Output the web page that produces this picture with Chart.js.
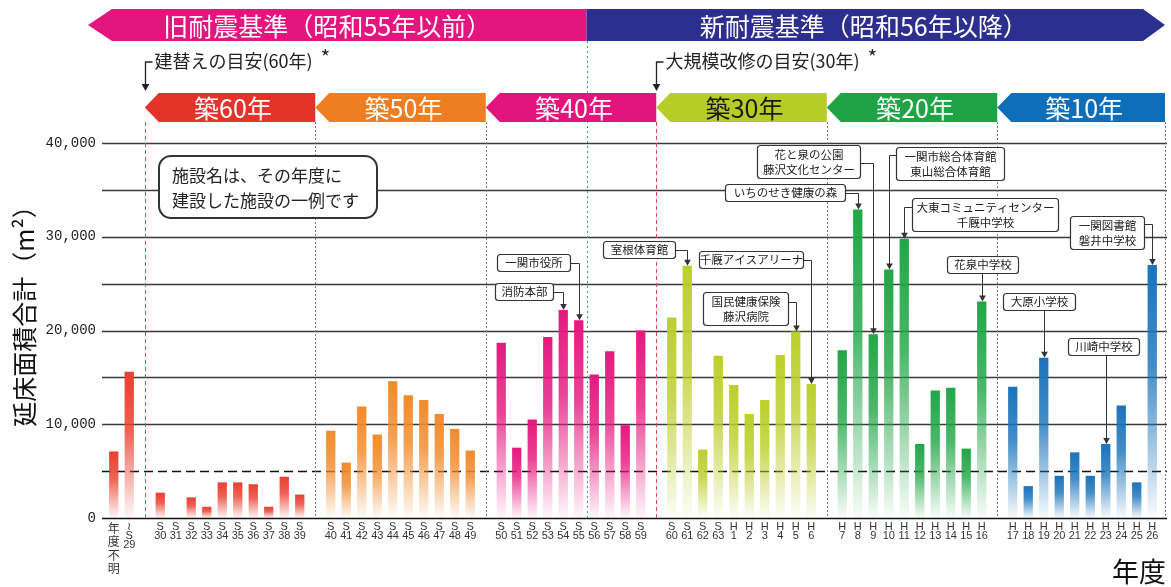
<!DOCTYPE html>
<html><head><meta charset="utf-8">
<script src="https://cdn.jsdelivr.net/npm/chart.js@4.4.1/dist/chart.umd.min.js"></script>
<style>html,body{margin:0;padding:0;background:#fff}#wrap{position:relative;width:1171px;height:587px}</style>
</head><body><div id="wrap"><canvas id="c" width="1171" height="587"></canvas></div>
<script>
// ---- data ----
const preLabels = ['年度不明', '〜S29'];
const preValues = [7100, 15600];
const age60Labels = ['S30','S31','S32','S33','S34','S35','S36','S37','S38','S39'];
const age60Values = [2700, 0, 2200, 1200, 3800, 3800, 3600, 1200, 4400, 2500];
const age50Labels = ['S40','S41','S42','S43','S44','S45','S46','S47','S48','S49'];
const age50Values = [9300, 5900, 11900, 8900, 14600, 13100, 12600, 11100, 9500, 7200];
const age40Labels = ['S50','S51','S52','S53','S54','S55','S56','S57','S58','S59'];
const age40Values = [18700, 7500, 10500, 19300, 22200, 21100, 15300, 17800, 9900, 20000];
const age30Labels = ['S60','S61','S62','S63','H1','H2','H3','H4','H5','H6'];
const age30Values = [21400, 26900, 7300, 17300, 14200, 11100, 12600, 17400, 19900, 14300];
const age20Labels = ['H7','H8','H9','H10','H11','H12','H13','H14','H15','H16'];
const age20Values = [17900, 32900, 19600, 26500, 29800, 7900, 13600, 13900, 7400, 23100];
const age10Labels = ['H17','H18','H19','H20','H21','H22','H23','H24','H25','H26'];
const age10Values = [14000, 3400, 17100, 4500, 7000, 4500, 7900, 12000, 3800, 27000];
const ageBandNames = ['築60年','築50年','築40年','築30年','築20年','築10年'];
const eraTitleOld = '旧耐震基準（昭和55年以前）';
const eraTitleNew = '新耐震基準（昭和56年以降）';
const yAxisTitle = '延床面積合計（m²）';
const xAxisTitle = '年度';

// ---- styles ----
const CJK = '"Noto Sans CJK JP", "Noto Sans CJK SC", sans-serif';
const barColors = ['#e8402f','#f28a2a','#e5197f','#bccf2a','#22a647','#1a73bb'];
const bandColors = ['#e5332a','#ef7d22','#e4147f','#b6cc27','#1ea445','#0e6fb8'];
const bandText = ['#fff','#fff','#fff','#1a1a1a','#fff','#fff'];

// ---- build category table ----
const groups = [
  [age60Labels, age60Values], [age50Labels, age50Values], [age40Labels, age40Values],
  [age30Labels, age30Values], [age20Labels, age20Values], [age10Labels, age10Values]
];
const labels = [...preLabels];
const values = [...preValues];
const eraOf = preLabels.map(() => 0);
const spacerIdx = [];
groups.forEach(([ls, vs], g) => {
  labels.push(''); values.push(null); eraOf.push(-1); spacerIdx.push(labels.length - 1);
  ls.forEach((l, i) => { labels.push(l); values.push(vs[i]); eraOf.push(g); });
});

function hexA(hex, a){
  const n = parseInt(hex.slice(1), 16);
  return `rgba(${(n>>16)&255},${(n>>8)&255},${n&255},${a})`;
}
function barFill(c){
  const col = barColors[Math.max(0, eraOf[c.dataIndex] ?? 0)];
  const chart = c.chart;
  if (!chart.chartArea || c.raw == null) return col;
  const ys = chart.scales.y;
  const top = ys.getPixelForValue(c.raw), bot = ys.getPixelForValue(0);
  if (!(bot > top)) return col;
  const g = chart.ctx.createLinearGradient(0, top, 0, bot);
  g.addColorStop(0, hexA(col, 1));
  g.addColorStop(0.4, hexA(col, 0.82));
  g.addColorStop(1, hexA(col, 0.03));
  return g;
}

function splitLabel(l){
  if (!l) return '';
  if (l === '年度不明') return l.split('');
  if (l.startsWith('〜')) return ['≀', 'S', l.slice(2)];
  return [l[0], l.slice(1)];
}

// callouts: text, target category, box rect, route
const callouts = [
  {t:['一関市役所'], target:'S55', box:[497,254,73,17], route:'right', ly:0.5},
  {t:['消防本部'], target:'S54', box:[495,283,58,17], route:'right', ly:0.5},
  {t:['室根体育館'], target:'S61', box:[603,241,72,17], route:'right', ly:0.5},
  {t:['千厩アイスアリーナ'], target:'H6', box:[699,251,104,17], route:'right', ly:0.5},
  {t:['国民健康保険','藤沢病院'], target:'H5', box:[703,292,85,33], route:'right', ly:0.3},
  {t:['花と泉の公園','藤沢文化センター'], target:'H9', box:[757,145,103,33], route:'right', ly:0.55},
  {t:['いちのせき健康の森'], target:'H8', box:[725,184,120,17], route:'right', ly:0.5},
  {t:['一関市総合体育館','東山総合体育館'], target:'H10', box:[896,147,108,33], route:'left', ly:0.25},
  {t:['大東コミュニティセンター','千厩中学校'], target:'H11', box:[912,198,146,33], route:'left', ly:0.28},
  {t:['花泉中学校'], target:'H16', box:[947,256,71,17], route:'bottom'},
  {t:['大原小学校'], target:'H19', box:[1003,293,72,17], route:'bottom'},
  {t:['一関図書館','磐井中学校'], target:'H26', box:[1070,216,74,33], route:'right', ly:0.25},
  {t:['川崎中学校'], target:'H23', box:[1068,338,71,17], route:'bottom'}
];

function rr(ctx,x,y,w,h,r){ctx.beginPath();ctx.moveTo(x+r,y);ctx.arcTo(x+w,y,x+w,y+h,r);ctx.arcTo(x+w,y+h,x,y+h,r);ctx.arcTo(x,y+h,x,y,r);ctx.arcTo(x,y,x+w,y,r);ctx.closePath();}
function arrowDown(ctx,x,y,s){ctx.beginPath();ctx.moveTo(x,y);ctx.lineTo(x-s*0.55,y-s);ctx.lineTo(x+s*0.55,y-s);ctx.closePath();ctx.fill();}
function leftBand(ctx,x0,x1,y0,y1,d,color){ctx.beginPath();ctx.moveTo(x0,(y0+y1)/2);ctx.lineTo(x0+d,y0);ctx.lineTo(x1,y0);ctx.lineTo(x1,y1);ctx.lineTo(x0+d,y1);ctx.closePath();ctx.fillStyle=color;ctx.fill();}
function rightBand(ctx,x0,x1,y0,y1,d,color){ctx.beginPath();ctx.moveTo(x0,y0);ctx.lineTo(x1-d,y0);ctx.lineTo(x1,(y0+y1)/2);ctx.lineTo(x1-d,y1);ctx.lineTo(x0,y1);ctx.closePath();ctx.fillStyle=color;ctx.fill();}

function boundaries(chart){
  const x = chart.scales.x, a = chart.chartArea;
  const b = spacerIdx.map(i => x.getPixelForValue(i));
  b.push(a.right + 5);
  return b;
}

const deco = {
  id: 'deco',
  beforeDatasetsDraw(chart){
    const {ctx, chartArea:a, scales:{x, y}} = chart;
    ctx.save();
    for (let v = 0; v <= 40000; v += 5000){
      const py = Math.round(y.getPixelForValue(v)) + 0.5;
      ctx.beginPath();
      ctx.moveTo(a.left - 4, py); ctx.lineTo(a.right + 7, py);
      if (v === 5000){ ctx.setLineDash([9,5]); ctx.strokeStyle = '#111'; ctx.lineWidth = 1.4; }
      else if (v === 0){ ctx.setLineDash([]); ctx.strokeStyle = '#111'; ctx.lineWidth = 1.6; }
      else { ctx.setLineDash([]); ctx.strokeStyle = '#3a3a3a'; ctx.lineWidth = 1.4; }
      ctx.stroke();
    }
    ctx.setLineDash([]);
    const b = boundaries(chart);
    b.forEach((bx, k) => {
      ctx.beginPath();
      const px = Math.round(bx) + 0.5;
      ctx.moveTo(px, 122); ctx.lineTo(px, a.bottom);
      if (k === 0 || k === 3){ ctx.strokeStyle = '#e0465a'; ctx.setLineDash([4,3]); }
      else { ctx.strokeStyle = '#777'; ctx.setLineDash([2,2]); }
      ctx.lineWidth = 1; ctx.stroke();
    });
    const i55 = labels.indexOf('S55'), i56 = labels.indexOf('S56');
    const mid = Math.round((x.getPixelForValue(i55) + x.getPixelForValue(i56)) / 2) + 0.5;
    ctx.beginPath(); ctx.moveTo(mid, 41); ctx.lineTo(mid, a.bottom);
    ctx.strokeStyle = '#3c9a74'; ctx.setLineDash([2,3]); ctx.stroke();
    ctx.restore();
  },
  afterDatasetsDraw(chart){
    const {ctx, scales:{x, y}} = chart;
    ctx.save();
    rr(ctx, 159, 156, 218, 62, 12);
    ctx.fillStyle = '#fff'; ctx.fill();
    ctx.lineWidth = 2; ctx.strokeStyle = '#333'; ctx.stroke();
    ctx.fillStyle = '#222'; ctx.font = `17px ${CJK}`; ctx.textBaseline = 'middle'; ctx.textAlign = 'left';
    ctx.fillText('施設名は、その年度に', 172, 176);
    ctx.fillText('建設した施設の一例です', 172, 201);
    callouts.forEach(c => {
      const idx = labels.indexOf(c.target);
      const bx = Math.round(x.getPixelForValue(idx)) + 0.5;
      const by = y.getPixelForValue(values[idx]);
      const [X, Y, W, H] = c.box;
      ctx.strokeStyle = '#333'; ctx.fillStyle = '#333'; ctx.lineWidth = 1; ctx.setLineDash([]);
      ctx.beginPath();
      if (c.route === 'bottom'){
        ctx.moveTo(bx, Y + H); ctx.lineTo(bx, by - 5);
      } else {
        const ly = Math.round(Y + H * c.ly) + 0.5;
        const sx = c.route === 'right' ? X + W : X;
        ctx.moveTo(sx, ly); ctx.lineTo(bx, ly); ctx.lineTo(bx, by - 5);
      }
      ctx.stroke();
      arrowDown(ctx, bx, by, 6);
      rr(ctx, X + 0.5, Y + 0.5, W, H, 3);
      ctx.fillStyle = '#fff'; ctx.fill();
      ctx.strokeStyle = '#333'; ctx.lineWidth = 1.2; ctx.stroke();
      ctx.fillStyle = '#222'; ctx.font = `11.5px ${CJK}`; ctx.textAlign = 'center'; ctx.textBaseline = 'middle';
      const n = c.t.length;
      c.t.forEach((s, i) => ctx.fillText(s, X + W / 2 + 0.5, Y + H / 2 + (i - (n - 1) / 2) * 14.5 + 0.5));
    });
    ctx.restore();
  },
  afterDraw(chart){
    const {ctx, chartArea:a, scales:{x}} = chart;
    ctx.save();
    const b = boundaries(chart);
    const i55 = labels.indexOf('S55'), i56 = labels.indexOf('S56');
    const mid = (x.getPixelForValue(i55) + x.getPixelForValue(i56)) / 2;
    const tipL = a.left - 18;
    leftBand(ctx, tipL, mid, 9, 41, 24, '#e4157f');
    rightBand(ctx, mid, a.right + 5, 9, 41, 22, '#2d2f8e');
    ctx.fillStyle = '#fff'; ctx.font = `25px ${CJK}`; ctx.textAlign = 'center'; ctx.textBaseline = 'middle';
    ctx.fillText(eraTitleOld, (tipL + mid) / 2 - 10, 26);
    ctx.fillText(eraTitleNew, (mid + a.right + 5) / 2 - 12, 26);
    for (let k = 0; k < 6; k++){
      leftBand(ctx, b[k], b[k + 1], 93, 122, 14, bandColors[k]);
      ctx.fillStyle = bandText[k]; ctx.font = `25px ${CJK}`;
      ctx.fillText(ageBandNames[k], (b[k] + b[k + 1]) / 2 + 3, 108);
    }
    const notes = [[b[0], '建替えの目安(60年)'], [b[3], '大規模改修の目安(30年)']];
    notes.forEach(([nx, txt]) => {
      const px = Math.round(nx) + 0.5;
      ctx.strokeStyle = '#222'; ctx.fillStyle = '#222'; ctx.lineWidth = 1.3;
      ctx.beginPath(); ctx.moveTo(px + 7, 62); ctx.lineTo(px, 62); ctx.lineTo(px, 85); ctx.stroke();
      arrowDown(ctx, px, 91, 7);
      ctx.font = `18px ${CJK}`; ctx.textAlign = 'left'; ctx.textBaseline = 'middle';
      ctx.fillText(txt, px + 9, 61);
      const w = ctx.measureText(txt).width;
      ctx.font = `20px ${CJK}`;
      ctx.fillText('*', px + 9 + w + 8, 57);
    });
    ctx.fillStyle = '#111';
    ctx.font = `25px ${CJK}`; ctx.textAlign = 'center'; ctx.textBaseline = 'middle';
    ctx.save(); ctx.translate(24, 310); ctx.rotate(-Math.PI / 2); ctx.fillText(yAxisTitle, 0, 0); ctx.restore();
    ctx.font = `27px ${CJK}`; ctx.textAlign = 'right'; ctx.textBaseline = 'alphabetic';
    ctx.fillText(xAxisTitle, 1166, 582);
    ctx.restore();
  }
};

new Chart(document.getElementById('c'), {
  type: 'bar',
  data: {
    labels,
    datasets: [{ data: values, backgroundColor: barFill, barPercentage: 0.6, categoryPercentage: 1.0, borderWidth: 0 }]
  },
  options: {
    responsive: false, animation: false, devicePixelRatio: 1,
    layout: { padding: { top: 143, right: 11, left: 0, bottom: 0 } },
    plugins: { legend: { display: false }, tooltip: { enabled: false } },
    scales: {
      x: {
        grid: { display: false }, border: { display: false },
        ticks: {
          autoSkip: false, maxRotation: 0, minRotation: 0, padding: -4, color: '#333',
          font: c => c.index === 0 ? { family: CJK, size: 12, lineHeight: 1.1 }
                                   : { family: '"Liberation Sans", sans-serif', size: 11, lineHeight: 0.82 },
          callback: function(v){ return splitLabel(this.getLabelForValue(v)); }
        },
        afterFit: s => { s.height = 69; }
      },
      y: {
        min: 0, max: 40000,
        grid: { display: false }, border: { display: false },
        ticks: {
          stepSize: 5000, padding: 2, color: '#222',
          font: { family: '"Liberation Mono", monospace', size: 14 },
          callback: v => (v % 10000 === 0 ? v.toLocaleString('en-US') : '')
        },
        afterFit: s => { s.width = 106; }
      }
    }
  },
  plugins: [deco]
});
</script>
</body></html>
